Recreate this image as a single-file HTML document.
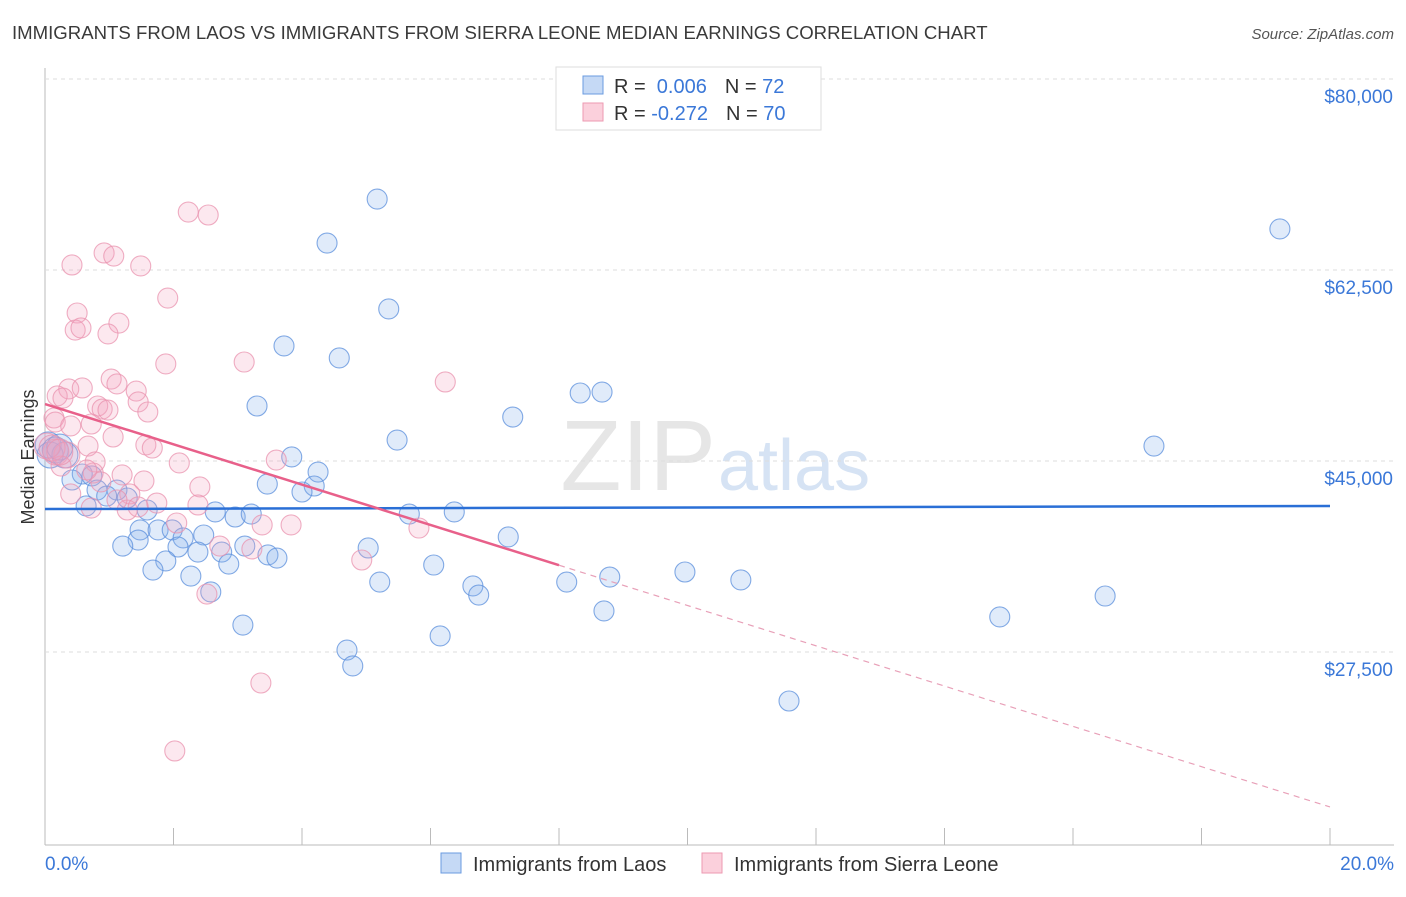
<!DOCTYPE html>
<html><head><meta charset="utf-8"><style>
body{margin:0;background:#fff;font-family:"Liberation Sans",sans-serif;}
svg text{font-family:"Liberation Sans",sans-serif;}
</style></head><body>
<svg id="chart" width="1406" height="892">
<text x="12" y="39" font-size="18.6" fill="#3a3a3a">IMMIGRANTS FROM LAOS VS IMMIGRANTS FROM SIERRA LEONE MEDIAN EARNINGS CORRELATION CHART</text>
<text x="1394" y="39" font-size="15" fill="#555" text-anchor="end" font-style="italic">Source: ZipAtlas.com</text>
<text x="716" y="490" font-size="100" fill="#e6e6e6" text-anchor="end" font-family="Liberation Serif">ZIP</text>
<text x="718" y="490" font-size="72" fill="#d6e3f4">atlas</text>
<g id="grid"></g><g id="marks"></g>
<text transform="translate(34,457) rotate(-90)" font-size="18" fill="#333" text-anchor="middle">Median Earnings</text>
<text x="45" y="870" font-size="19" fill="#3b78d8">0.0%</text>
<text x="1394" y="870" font-size="19" fill="#3b78d8" text-anchor="end">20.0%</text>
<g>
<rect x="556" y="67" width="265" height="63" fill="#fff" stroke="#ddd"/>
<rect x="583" y="76" width="20" height="18" fill="#c5d9f5" stroke="#6a9be0"/>
<rect x="583" y="103" width="20" height="18" fill="#fbd0dc" stroke="#ec9ab2"/>
<text x="614" y="93" font-size="20" fill="#333">R = <tspan fill="#3b78d8">&#160;0.006</tspan><tspan dx="18">N = </tspan><tspan fill="#3b78d8">72</tspan></text>
<text x="614" y="120" font-size="20" fill="#333">R = <tspan fill="#3b78d8">-0.272</tspan><tspan dx="18">N = </tspan><tspan fill="#3b78d8">70</tspan></text>
</g>
<g>
<rect x="441" y="853" width="20" height="20" fill="#c5d9f5" stroke="#6a9be0"/>
<text x="473" y="871" font-size="20" fill="#333">Immigrants from Laos</text>
<rect x="702" y="853" width="20" height="20" fill="#fbd0dc" stroke="#ec9ab2"/>
<text x="734" y="871" font-size="20" fill="#333">Immigrants from Sierra Leone</text>
</g>
</svg>
<script>
const yTicks=[27500,45000,62500,80000];
const yTickLabels=["$27,500","$45,000","$62,500","$80,000"];
const xTicks=[0,2,4,6,8,10,12,14,16,18,20];
const laosX=[5.17,19.22,4.39,5.35,3.72,4.58,8.33,8.67,3.30,7.28,5.48,17.26,0.05,0.16,0.31,3.84,4.25,0.58,0.73,0.42,3.46,4.19,4.00,0.81,1.12,0.96,1.28,0.64,1.59,2.65,2.96,3.21,5.67,6.37,1.48,1.76,1.98,2.15,2.47,1.45,1.21,2.07,2.38,2.75,3.11,3.47,3.61,5.03,7.21,1.88,1.68,2.86,6.05,2.27,9.96,5.21,8.12,8.79,10.83,6.66,6.75,2.58,16.50,8.70,14.86,3.08,6.15,4.70,4.79,11.58,0.08,0.23];
const laosY=[69000,66260,64970,58930,55540,54440,51230,51320,50040,49030,46920,46370,46470,46010,45550,45370,43990,43810,43630,43260,42890,42710,42160,42340,42340,41790,41610,40880,40510,40330,39870,40140,40140,40330,38680,38680,38680,37950,38220,37760,37210,37120,36660,36660,37210,36390,36110,37030,38040,35840,35010,35560,35470,34460,34830,33910,33910,34370,34100,33550,32720,33000,32630,31260,30710,29970,28970,27680,26220,23010,45550,46280];
const sierraX=[2.23,2.54,0.92,1.07,0.42,1.49,1.91,0.50,1.15,0.47,0.56,0.98,1.88,3.10,6.23,1.03,1.12,0.37,0.58,1.42,0.19,0.28,1.45,0.82,0.89,0.98,1.60,0.14,0.16,0.40,0.72,1.06,1.57,1.67,0.67,0.17,0.34,0.78,0.25,2.09,3.60,1.20,0.75,0.87,1.54,2.41,0.40,1.32,1.74,2.38,0.72,1.28,1.45,2.05,3.38,3.83,5.82,2.72,3.22,4.93,2.52,3.36,2.02,0.03,0.11,0.23,0.65,1.12];
const sierraY=[67810,67540,64060,63780,62960,62870,59930,58560,57640,57000,57190,56640,53890,54070,52240,52510,52060,51600,51690,51410,50960,50770,50410,50040,49760,49670,49490,48940,48570,48210,48390,47200,46470,46190,46370,45820,45550,44910,44540,44820,45090,43720,43900,43080,43170,42620,41980,41980,41150,40970,40690,40510,40790,39320,39140,39140,38860,37210,36940,35930,32810,24660,18430,46370,46190,45820,44180,41430];
const laosTrend=[40600,40880];
const sierraTrend=[50220,13300];
const sierraSolidEnd=8;
const NS="http://www.w3.org/2000/svg";
const xs=v=>45+v*64.25;
const ys=v=>461-(v-45000)*0.010914;
function mk(t,a,p){const e=document.createElementNS(NS,t);for(const k in a)e.setAttribute(k,a[k]);p.appendChild(e);return e;}
const grid=document.getElementById('grid'),marks=document.getElementById('marks');
mk('line',{x1:45,y1:68,x2:45,y2:845,stroke:'#bbb'},grid);
mk('line',{x1:45,y1:845,x2:1394,y2:845,stroke:'#bbb'},grid);
yTicks.forEach((t,i)=>{
 const l=mk('line',{x1:45,y1:ys(t),x2:1394,y2:ys(t),stroke:'#ddd','stroke-dasharray':'4,4'},grid);
 
 
 const tx=mk('text',{x:1393,y:ys(t)+24,'font-size':19,fill:'#3b78d8','text-anchor':'end'},grid);
 tx.textContent=yTickLabels[i];
 
 
});
mk('line',{x1:45,y1:79,x2:1394,y2:79,stroke:'#ddd','stroke-dasharray':'4,4'},grid);
xTicks.forEach(t=>{
 const l=mk('line',{x1:xs(t),y1:828,x2:xs(t),y2:845,stroke:'#bbb'},grid);
 
 
});
function pts(X,Y,fill,stroke,name){
 X.forEach((x,i)=>{
  const big=x<0.35&&Y[i]>45000&&Y[i]<47000;
  const c=mk('circle',{cx:xs(x),cy:ys(Y[i]),r:big?13:10,fill:fill,stroke:stroke,'stroke-width':1.1,'stroke-opacity':0.75},marks);
  
  
 });
}
pts(laosX,laosY,'rgba(130,175,235,0.25)','#5b8fdc','laos-point');
pts(sierraX,sierraY,'rgba(245,165,190,0.25)','#ea93af','sierra-leone-point');
const bl=mk('line',{x1:xs(0),y1:ys(laosTrend[0]),x2:xs(20),y2:ys(laosTrend[1]),stroke:'#2a6fd6','stroke-width':2.5},marks);


const sv=t=>sierraTrend[0]+(sierraTrend[1]-sierraTrend[0])*t/20;
const pl=mk('line',{x1:xs(0),y1:ys(sv(0)),x2:xs(sierraSolidEnd),y2:ys(sv(sierraSolidEnd)),stroke:'#e8608a','stroke-width':2.5},marks);


const pd=mk('line',{x1:xs(sierraSolidEnd),y1:ys(sv(sierraSolidEnd)),x2:xs(20),y2:ys(sv(20)),stroke:'#e8a0b8','stroke-width':1.2,'stroke-dasharray':'6,5'},marks);


</script>
</body></html>
